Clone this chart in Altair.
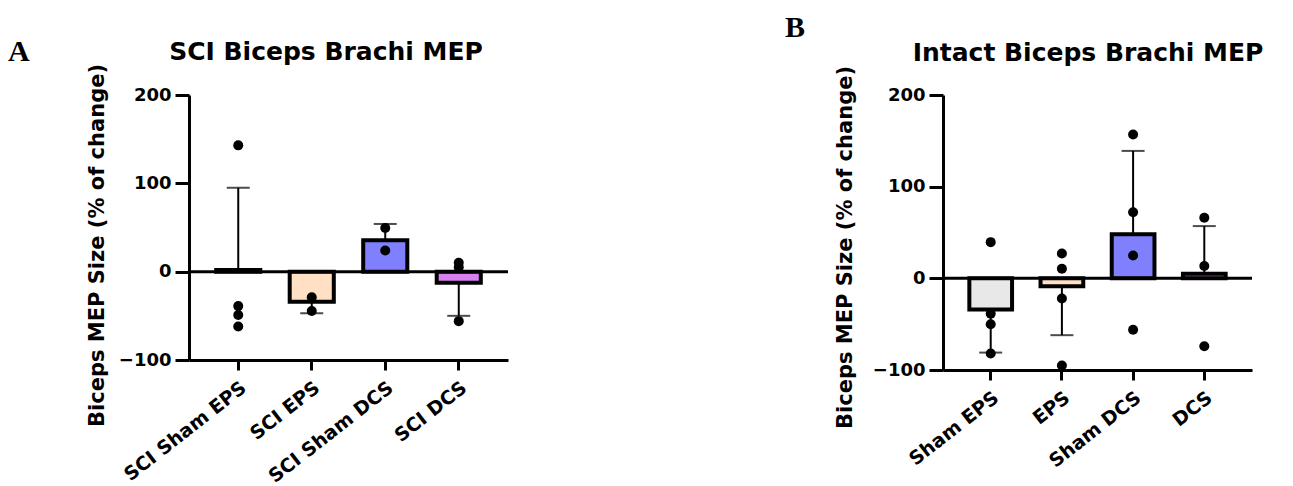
import altair as alt
import pandas as pd

FONT = "DejaVu Sans"

# ---- Panel A data ----
groups_a = ["SCI Sham EPS", "SCI EPS", "SCI Sham DCS", "SCI DCS"]
means_a = [2, -34, 35.5, -12.5]
errs_a = [95, -47, 54, -50]
pts_a_group = ["SCI Sham EPS"] * 4 + ["SCI EPS"] * 2 + ["SCI Sham DCS"] * 2 + ["SCI DCS"] * 3
pts_a_value = [143, -39, -49, -62, -29, -44.5, 49.5, 24, 10, 5, -56]

# ---- Panel B data ----
groups_b = ["Sham EPS", "EPS", "Sham DCS", "DCS"]
means_b = [-34, -8.5, 48, 5]
errs_b = [-81, -62, 139, 57]
pts_b_group = ["Sham EPS"] * 4 + ["EPS"] * 4 + ["Sham DCS"] * 4 + ["DCS"] * 3
pts_b_value = [39.5, -38.5, -50, -82, 27, 10.5, -22, -95, 157, 72, 25, -56, 66, 13.5, -74]

colors = ["#e8e8e8", "#ffe0c4", "#8080ff", "#d880f2"]
y_ticks = [-100, 0, 100, 200]


def panel(groups, means, errs, pg, pv, width, height, title, tx, ty,
          ytx, yty, letter, lx, ly):
    bars = pd.DataFrame({"group": groups, "mean": means, "err": errs})
    pts = pd.DataFrame({"group": pg, "value": pv})
    x = alt.X("group:N", sort=groups,
              scale=alt.Scale(domain=groups, paddingInner=0.4, paddingOuter=0.37),
              axis=alt.Axis(title=None, labelAngle=-38, labelFontSize=19,
                            labelFont=FONT, labelFontWeight="bold", labelColor="black",
                            tickSize=10, tickWidth=3, tickColor="black",
                            domainWidth=3, domainColor="black", labelPadding=8))
    yscale = alt.Scale(domain=[-100, 200], nice=False, zero=False)
    yaxis = alt.Axis(title="Biceps MEP Size (% of change)", values=y_ticks,
                     titleFont=FONT, titleFontSize=21, titleFontWeight="bold",
                     titleColor="black", titleX=ytx, titleY=yty, titleBaseline="middle",
                     labelFont=FONT, labelFontSize=18, labelFontWeight="bold",
                     labelColor="black", labelPadding=4, tickSize=14, tickWidth=3,
                     tickColor="black", domainWidth=3, domainColor="black", grid=False)
    bar = alt.Chart(bars).mark_bar(stroke="black", strokeWidth=4).encode(
        x=x,
        y=alt.Y("mean:Q", scale=yscale, axis=yaxis),
        y2=alt.datum(0),
        color=alt.Color("group:N", scale=alt.Scale(domain=groups, range=colors), legend=None),
    )
    err = alt.Chart(bars).mark_rule(color="black", strokeWidth=2).encode(
        x=x, y=alt.Y("mean:Q", scale=yscale), y2="err:Q")
    cap = alt.Chart(bars).mark_tick(color="black", thickness=2, size=23).encode(
        x=x, y=alt.Y("err:Q", scale=yscale))
    zero = alt.Chart(pd.DataFrame({"z": [0]})).mark_rule(color="black", strokeWidth=3).encode(
        y=alt.Y("z:Q", scale=yscale))
    dots = alt.Chart(pts).mark_circle(color="black", opacity=1, size=100).encode(
        x=x, y=alt.Y("value:Q", scale=yscale))
    lab = alt.Chart(pd.DataFrame({"t": [letter]})).mark_text(
        font="Liberation Serif", fontSize=30, fontWeight="bold", align="left",
        baseline="alphabetic", color="black").encode(
        text="t:N", x=alt.value(lx), y=alt.value(ly))
    ttl = alt.Chart(pd.DataFrame({"t": [title]})).mark_text(
        font=FONT, fontSize=25, fontWeight="bold", align="center",
        baseline="alphabetic", color="black").encode(
        text="t:N", x=alt.value(tx), y=alt.value(ty))
    return alt.layer(bar, err, cap, zero, dots, lab, ttl).properties(
        width=width, height=height)


a = panel(groups_a, means_a, errs_a, pts_a_group, pts_a_value, 319, 265,
          "SCI Biceps Brachi MEP", 137, -35, -92, 150, "A", -181, -34)
b = panel(groups_b, means_b, errs_b, pts_b_group, pts_b_value, 309, 275,
          "Intact Biceps Brachi MEP", 145, -34, -98, 152, "B", -158, -58)

chart = alt.hconcat(a, b, spacing=435, bounds="flush").properties(
    padding={"left": 8, "top": 13, "right": 0, "bottom": 0}
).configure(background="white").configure_view(stroke=None)

chart.save("out.html", embed_options={"renderer": "svg", "actions": False})
